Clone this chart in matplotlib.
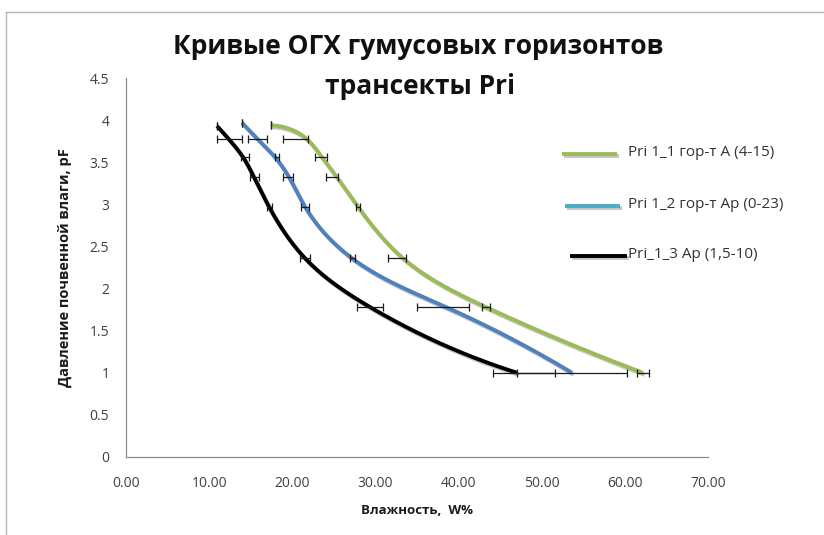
import numpy as np
import matplotlib
matplotlib.use('Agg')
import matplotlib.pyplot as plt
from matplotlib import patheffects as pe
from matplotlib.lines import Line2D

plt.rcParams['font.family'] = ['Open Sans', 'DejaVu Sans']

# ---------------- data ----------------
title_line1 = 'Кривые ОГХ гумусовых горизонтов'
title_line2 = 'трансекты Pri'
x_label = 'Влажность,  W%'
y_label = 'Давление почвенной влаги, pF'

series_names = ['Pri 1_1 гор-т А (4-15)', 'Pri 1_2 гор-т Ар (0-23)', 'Pri_1_3 Ар (1,5-10)']

pf_green = [3.94, 3.77, 3.56, 3.32, 2.97, 2.36, 1.78, 1.0]
w_green = [17.44, 21.80, 23.57, 25.38, 27.90, 33.32, 43.30, 62.18]
err_lo_green = [0, 2.92, 0.84, 1.32, 0.24, 1.80, 0.48, 0.72]
err_hi_green = [0, 0.09, 0.60, 0.12, 0.24, 0.36, 0.48, 0.72]

pf_blue = [3.97, 3.77, 3.56, 3.32, 2.97, 2.36, 1.78, 1.0]
w_blue = [13.95, 15.88, 17.92, 19.61, 21.53, 27.18, 38.49, 53.64]
err_lo_blue = [0, 1.20, 0.0, 0.72, 0.48, 0.24, 3.49, 6.62]
err_hi_blue = [0, 1.08, 0.48, 0.48, 0.48, 0.36, 2.77, 6.62]

pf_black = [3.93, 3.77, 3.56, 3.32, 2.97, 2.36, 1.78, 1.0]
w_black = [10.95, 12.40, 14.07, 15.40, 17.20, 21.53, 29.35, 47.03]
err_lo_black = [0, 1.45, 0.24, 0.48, 0.24, 0.60, 1.56, 2.89]
err_hi_black = [0, 1.55, 0.72, 0.60, 0.36, 0.60, 1.56, 4.57]

x_ticks = [0, 10, 20, 30, 40, 50, 60, 70]
y_ticks = [0, 0.5, 1, 1.5, 2, 2.5, 3, 3.5, 4, 4.5]

line_colors = ['#9BBB59', '#4F81BD', '#000000']
legend_colors = ['#9BBB59', '#4BACC6', '#000000']

# ---------------- figure ----------------
W, H = 824, 535
fig = plt.figure(figsize=(W / 100, H / 100), dpi=100)
ax_l, ax_r, ax_t, ax_b = 126, 708, 78, 457
ax = fig.add_axes([ax_l / W, 1 - ax_b / H, (ax_r - ax_l) / W, (ax_b - ax_t) / H])
ax.set_xlim(0, 70)
ax.set_ylim(0, 4.5)
axw, axh = ax_r - ax_l, ax_b - ax_t


def cubic_spline(t, y, tt):
    """Cubic spline through the points with parabolic run-out ends."""
    n = len(t)
    h = np.diff(t)
    A = np.zeros((n, n))
    b = np.zeros(n)
    A[0, 0], A[0, 1] = 1, -1
    A[-1, -1], A[-1, -2] = 1, -1
    for i in range(1, n - 1):
        A[i, i - 1] = h[i - 1]
        A[i, i] = 2 * (h[i - 1] + h[i])
        A[i, i + 1] = h[i]
        b[i] = 6 * ((y[i + 1] - y[i]) / h[i] - (y[i] - y[i - 1]) / h[i - 1])
    M = np.linalg.solve(A, b)
    idx = np.clip(np.searchsorted(t, tt) - 1, 0, n - 2)
    t0, t1 = t[idx], t[idx + 1]
    hh = t1 - t0
    a = (t1 - tt) / hh
    c = (tt - t0) / hh
    return (a * y[idx] + c * y[idx + 1]
            + ((a ** 3 - a) * M[idx] + (c ** 3 - c) * M[idx + 1]) * hh ** 2 / 6)


def smooth(xs, ys):
    px = np.asarray(xs) / 70 * axw
    py = np.asarray(ys) / 4.5 * axh
    d = np.hypot(np.diff(px), np.diff(py))
    t = np.concatenate([[0], np.cumsum(d)])
    tt = np.linspace(0, t[-1], 800)
    sx = cubic_spline(t, px, tt)
    sy = cubic_spline(t, py, tt)
    return sx * 70 / axw, sy * 4.5 / axh


shadow = [pe.SimpleLineShadow(offset=(1.2, -1.5), shadow_color='#7f7f7f', alpha=0.45), pe.Normal()]

data = [
    (w_green, pf_green, err_lo_green, err_hi_green),
    (w_blue, pf_blue, err_lo_blue, err_hi_blue),
    (w_black, pf_black, err_lo_black, err_hi_black),
]

for (xs, ys, lo, hi), col in zip(data, line_colors):
    sx, sy = smooth(xs, ys)
    ax.plot(sx, sy, color=col, lw=2.8, solid_capstyle='butt', zorder=2, path_effects=shadow)

for (xs, ys, lo, hi) in data:
    ax.errorbar(xs, ys, xerr=[lo, hi], fmt='none', ecolor='#1a1a1a', elinewidth=0.9,
                capsize=3, capthick=0.9, zorder=3)

for s in ['top', 'right']:
    ax.spines[s].set_visible(False)
for s in ['left', 'bottom']:
    ax.spines[s].set_color('#8c8c8c')
    ax.spines[s].set_linewidth(0.9)

ax.set_xticks(x_ticks)
ax.set_xticklabels([f'{v:.2f}' for v in x_ticks])
ax.set_yticks(y_ticks)
ax.set_yticklabels([f'{v:g}' for v in y_ticks])
ax.tick_params(axis='x', length=0, pad=14, labelsize=10, labelcolor='#404040')
ax.tick_params(axis='y', length=0, pad=12, labelsize=10, labelcolor='#404040')

ax.set_xlabel(x_label, fontsize=9.5, fontweight='bold', color='#1a1a1a')
ax.xaxis.set_label_coords(0.5, (ax_b - 504) / axh)
ax.set_ylabel(y_label, fontsize=10.5, fontweight='bold', color='#1a1a1a')
ax.yaxis.set_label_coords((72 - ax_l) / axw, 0.5)

# title
fig.text(418 / W, 1 - 47 / H, title_line1, ha='center', va='center', fontsize=19,
         fontweight='bold', color='#111111')
fig.text(420 / W, 1 - 86 / H, title_line2, ha='center', va='center', fontsize=19,
         fontweight='bold', color='#111111')

# legend (manual)
leg_rows = [(562, 617, 154, 153), (565, 620, 206, 205), (570, 627, 256, 255)]
for (x0, x1, yl, yt), col, name in zip(leg_rows, legend_colors, series_names):
    fig.add_artist(Line2D([x0 / W, x1 / W], [1 - yl / H, 1 - yl / H], transform=fig.transFigure,
                          color=col, lw=2.8, solid_capstyle='butt', path_effects=shadow))
    fig.text(628 / W, 1 - yt / H, name, ha='left', va='center', fontsize=11, color='#333333')

# chart-area frame (partially visible)
fig.add_artist(Line2D([6 / W, 6 / W], [0, 1 - 12 / H], transform=fig.transFigure, color='#b5b5b5', lw=1))
fig.add_artist(Line2D([6 / W, 1], [1 - 12 / H, 1 - 12 / H], transform=fig.transFigure, color='#b5b5b5', lw=1))

fig.savefig('out.png', dpi=100)
